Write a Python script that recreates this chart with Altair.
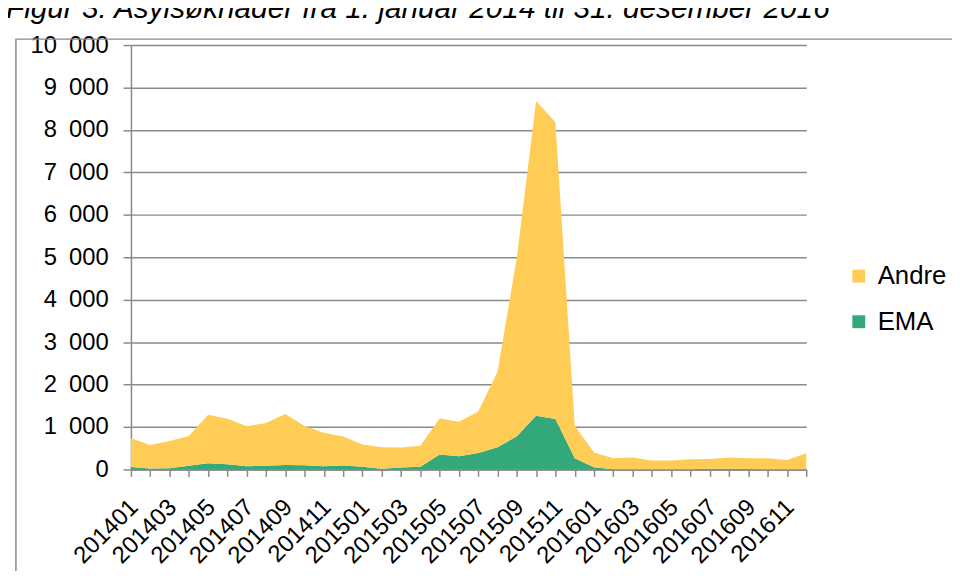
import altair as alt
import pandas as pd

months = [
    "201401", "201402", "201403", "201404", "201405", "201406",
    "201407", "201408", "201409", "201410", "201411", "201412",
    "201501", "201502", "201503", "201504", "201505", "201506",
    "201507", "201508", "201509", "201510", "201511", "201512",
    "201601", "201602", "201603", "201604", "201605", "201606",
    "201607", "201608", "201609", "201610", "201611", "201612",
]
ema = [61, 23, 30, 85, 148, 124, 77, 85, 108, 100, 77, 94,
       63, 16, 47, 62, 351, 312, 390, 523, 781, 1265, 1187, 265,
       50, 8, 5, 5, 5, 8, 15, 20, 10, 5, 5, 5]
andre = [674, 555, 641, 704, 1143, 1073, 939, 1009, 1197, 924, 791, 681,
         524, 507, 473, 496, 851, 812, 976, 1779, 4215, 7416, 6994, 765,
         350, 257, 276, 206, 206, 233, 234, 261, 255, 260, 221, 378]
series = ["Andre", "EMA"]
colors = ["#FFCD55", "#33A87A"]
title_text = "Figur 3: Asylsøknader fra 1. januar 2014 til 31. desember 2016"

rows = []
for m, e, a in zip(months, ema, andre):
    rows.append({"month": m, "serie": "EMA", "value": e, "ord": 0})
    rows.append({"month": m, "serie": "Andre", "value": a, "ord": 1})
df = pd.DataFrame(rows)

FONT = "Liberation Sans"
GRID = "#8a8a8a"
SEP = "\u2002"

area = alt.Chart(df).mark_area(opacity=1, interpolate="linear").encode(
    x=alt.X("month:O", sort=months,
            scale=alt.Scale(padding=0),
            axis=alt.Axis(title=None, labelAngle=-45, labelAlign="right",
                          labelBaseline="middle", labelPadding=27, labelOffset=3,
                          labelFontSize=24, labelFont=FONT, labelColor="#000",
                          labelExpr="toNumber(substring(datum.value, 4, 6)) % 2 == 1 ? datum.value : ''",
                          tickSize=7, tickColor=GRID, tickWidth=1.5,
                          domainColor=GRID, domainWidth=1.5, grid=False,
                          labelOverlap=False)),
    y=alt.Y("value:Q", stack="zero",
            scale=alt.Scale(domain=[0, 10000], nice=False),
            axis=alt.Axis(title=None, values=list(range(0, 10001, 1000)),
                          labelExpr="replace(format(datum.value, ','), ',', '" + SEP + "')",
                          labelFontSize=24, labelFont=FONT, labelColor="#000",
                          labelPadding=15, tickSize=8, tickColor=GRID,
                          tickWidth=1.5, domainColor=GRID, domainWidth=1.5,
                          grid=True, gridColor=GRID, gridWidth=1.5)),
    color=alt.Color("serie:N",
                    scale=alt.Scale(domain=series, range=colors),
                    legend=alt.Legend(title=None, orient="none", legendX=721,
                                      legendY=220, symbolType="square",
                                      symbolSize=169, symbolStrokeWidth=0,
                                      labelFontSize=26, labelFont=FONT,
                                      labelColor="#000", labelOffset=6,
                                      rowPadding=20, padding=0)),
    order=alt.Order("ord:Q"),
)

frame = alt.Chart(alt.Data(values=[{"a": 1}])).mark_rect(
    fill=None, stroke=GRID, strokeWidth=1.5
).encode(
    x=alt.value(-116), x2=alt.value(1200),
    y=alt.value(-6), y2=alt.value(800),
)

title = alt.Chart(alt.Data(values=[{"t": title_text}])).mark_text(
    font=FONT, fontSize=30, fontStyle="italic", align="left",
    baseline="alphabetic", color="#000"
).encode(
    text="t:N", x=alt.value(-126), y=alt.value(-27),
)

chart = alt.layer(frame, area, title).properties(
    width=681, height=428,
    autosize=alt.AutoSizeParams(type="none"),
    padding={"left": 124, "top": 35, "right": 147, "bottom": 100},
).configure_view(stroke=None)

chart.save("out.html", embed_options={"renderer": "svg", "actions": False})
